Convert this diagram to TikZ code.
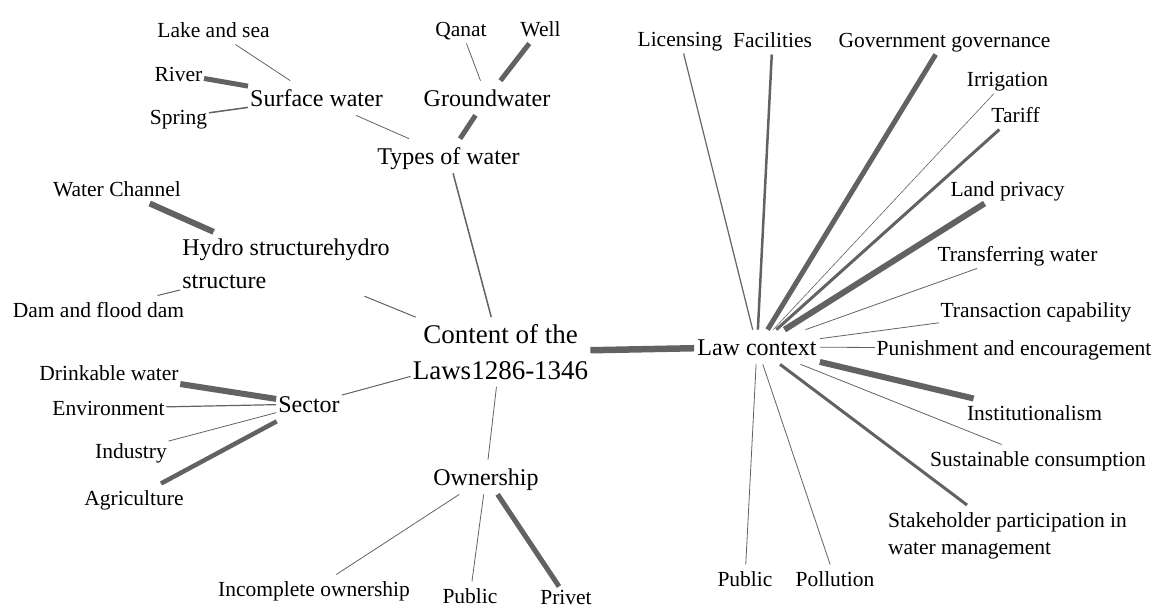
\documentclass[tikz,border=0pt]{standalone}
\usepackage{fontspec}
\setmainfont{Liberation Serif}
\definecolor{edge}{RGB}{98,98,98}
\tikzset{
  lab/.style={font=\fontsize{21.5}{26}\selectfont, text height=14.6pt, text depth=0pt, inner xsep=1.5pt, inner ysep=7pt},
  mid/.style={font=\fontsize{24}{29}\selectfont, text height=16.3pt, text depth=0pt, inner xsep=2pt, inner ysep=9pt},
  hub/.style={mid, inner xsep=3pt},
  twoline/.style={align=left, inner xsep=2pt, inner ysep=7pt},
  ln/.style={draw=edge, line width=#1},
}
\begin{document}
\begin{tikzpicture}[x=1pt,y=-1pt]
\useasboundingbox (0,0) rectangle (1156,609);
% ---- nodes
\node[font=\fontsize{27}{36}\selectfont, align=center, inner xsep=2pt, inner ysep=7pt] (content) at (500.5,352) {Content of the\\Laws1286-1346};
\node[hub] (law) at (757,347) {Law context};
\node[mid] (types) at (448.5,156) {Types of water};
\node[mid] (surf) at (316.5,98) {Surface water};
\node[mid] (ground) at (487,98) {Groundwater};
\node[mid] (sector) at (309,404) {Sector};
\node[mid] (owner) at (486,477) {Ownership};
\node[twoline, font=\fontsize{24}{33}\selectfont] (hydro) at (286,264) {Hydro structurehydro\\structure};
\node[lab] (lake) at (213.5,30) {Lake and sea};
\node[lab] (river) at (178.5,74) {River};
\node[lab] (spring) at (178.5,117) {Spring};
\node[lab] (qanat) at (461,29) {Qanat};
\node[lab] (well) at (540.5,29) {Well};
\node[lab] (wchan) at (117,189) {Water Channel};
\node[lab] (dam) at (98.5,310) {Dam and flood dam};
\node[lab] (drink) at (109,373) {Drinkable water};
\node[lab] (env) at (108.5,408) {Environment};
\node[lab] (indus) at (131,451) {Industry};
\node[lab] (agri) at (134,498) {Agriculture};
\node[lab] (incomp) at (314,589) {Incomplete ownership};
\node[lab] (opub) at (470,596) {Public};
\node[lab, inner ysep=3pt] (privet) at (566,597) {Privet};
\node[lab] (licens) at (680,39) {Licensing};
\node[lab] (facil) at (772.5,40) {Facilities};
\node[lab] (gov) at (944.5,40) {Government governance};
\node[lab] (irrig) at (1007.5,79) {Irrigation};
\node[lab] (tariff) at (1015.5,115) {Tariff};
\node[lab] (landp) at (1007.5,189) {Land privacy};
\node[lab] (transf) at (1017.5,254) {Transferring water};
\node[lab] (transa) at (1036,310) {Transaction capability};
\node[lab] (punish) at (1014,348) {Punishment and encouragement};
\node[lab] (instit) at (1034.5,413) {Institutionalism};
\node[lab] (sustain) at (1038,459) {Sustainable consumption};
\node[twoline, font=\fontsize{21.5}{27}\selectfont] (stake) at (1007.5,535.5) {Stakeholder participation in\\water management};
\node[lab] (lpub) at (745,579) {Public};
\node[lab] (pollu) at (835,579) {Pollution};
% ---- connectors
\path[ln=0.8pt] (lake) -- (surf);
\path[ln=5pt] (river) -- (surf);
\path[ln=1.5pt] (spring) -- (surf);
\path[ln=0.8pt] (surf) -- (types);
\path[ln=0.8pt] (qanat) -- (ground);
\path[ln=5pt] (well) -- (ground);
\path[ln=5pt] (ground) -- (types);
\path[ln=1.5pt] (types) -- (content);
\path[ln=6pt] (wchan) -- (hydro);
\path[ln=1pt] (hydro) -- (dam);
\path[ln=1pt] (hydro) -- (content);
\path[ln=6pt] (drink) -- (sector);
\path[ln=1.2pt] (env) -- (sector);
\path[ln=0.8pt] (indus) -- (sector);
\path[ln=4.5pt] (agri) -- (sector);
\path[ln=1pt] (sector) -- (content);
\path[ln=6.5pt] (content) -- (law);
\path[ln=0.8pt] (content) -- (owner);
\path[ln=0.8pt] (owner) -- (incomp);
\path[ln=0.8pt] (owner) -- (opub);
\path[ln=5pt] (owner) -- (privet);
\path[ln=1.2pt] (law) -- (licens);
\path[ln=2.5pt] (law) -- (facil);
\path[ln=5pt] (law) -- (gov);
\path[ln=0.6pt] (law) -- (irrig);
\path[ln=3pt] (law) -- (tariff);
\path[ln=6pt] (law) -- (landp);
\path[ln=0.8pt] (law) -- (transf);
\path[ln=0.8pt] (law) -- (transa);
\path[ln=0.8pt] (law) -- (punish);
\path[ln=6pt] (law) -- (instit);
\path[ln=0.8pt] (law) -- (sustain);
\path[ln=3pt] (law) -- (stake);
\path[ln=0.8pt] (law) -- (lpub);
\path[ln=0.8pt] (law) -- (pollu);
\end{tikzpicture}
\end{document}
